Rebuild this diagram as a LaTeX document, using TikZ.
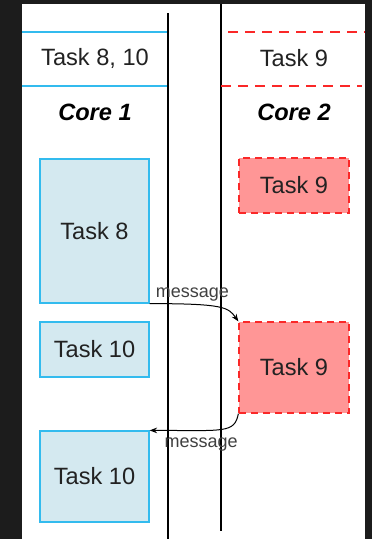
\documentclass[tikz,border=0pt]{standalone}
\usepackage{fontspec}
\setmainfont{Liberation Sans}
\usetikzlibrary{arrows.meta}
\definecolor{bgdark}{RGB}{28,28,28}
\definecolor{corefill}{RGB}{212,233,240}
\definecolor{coreline}{RGB}{51,187,238}
\definecolor{taskfill}{RGB}{255,150,150}
\definecolor{taskline}{RGB}{250,40,40}
\definecolor{txt}{RGB}{34,34,34}

\begin{document}
\begin{tikzpicture}[x=1pt, y=-1pt, >=Stealth, semithick,
    every node/.style={text=txt, font=\fontsize{23.6}{28}\selectfont},
    bluetask/.style={draw=coreline, fill=corefill, line width=1.2pt,
      inner sep=0pt, minimum width=109pt},
    redtask/.style={draw=taskline, fill=taskfill, line width=1.2pt,
      dash pattern=on 7pt off 5pt, inner sep=0pt, minimum width=110pt},
    corename/.style={font=\fontsize{23.6}{28}\selectfont\bfseries\itshape, text=black},
    msg/.style={->, black, line width=1pt},
    msglabel/.style={font=\fontsize{18}{20}\selectfont, inner sep=1pt, text=black!75}]
    \useasboundingbox (0,0) rectangle (372,539);
    \fill[bgdark] (0,0) rectangle (372,539);
    \fill[white] (22,4) rectangle (365,539);

    % core timelines
    \draw[line width=1.3pt] (168,13) -- (168,539);
    \draw[line width=1.3pt] (221,4) -- (221,531);

    % headers
    \draw[coreline, line width=1.4pt] (22,32) -- (167,32) (22,86) -- (167,86);
    \draw[taskline, line width=1.4pt, dash pattern=on 10pt off 7pt]
      (228,32) -- (365,32) (221,86) -- (362,86);
    \node (H1) at (95,58) {Task 8, 10};
    \node (H2) at (294,58) {Task 9};
    \node[corename] (C1) at (95,112) {Core 1};
    \node[corename] (C2) at (294,112) {Core 2};

    % tasks
    \node[bluetask, minimum height=144pt] (T8) at (94.5,231) {Task 8};
    \node[bluetask, minimum height=55pt] (T10a) at (94.5,349.5) {Task 10};
    \node[bluetask, minimum height=91pt] (T10b) at (94.5,476.5) {Task 10};
    \node[redtask, minimum height=55pt] (T9a) at (294,185.5) {Task 9};
    \node[redtask, minimum height=91pt] (T9b) at (294,367.5) {Task 9};

    \draw[msg] (T8.south east) .. controls +(75,0) and +(-10,-14) .. (T9b.north west)
      node[msglabel, pos=0.24, above=1.5pt] {message};
    \draw[msg] (T9b.south west) .. controls +(-4,20) and +(75,0) .. (T10b.north east)
      node[msglabel, pos=0.7, below=6pt] {message};
  \end{tikzpicture}
\end{document}
